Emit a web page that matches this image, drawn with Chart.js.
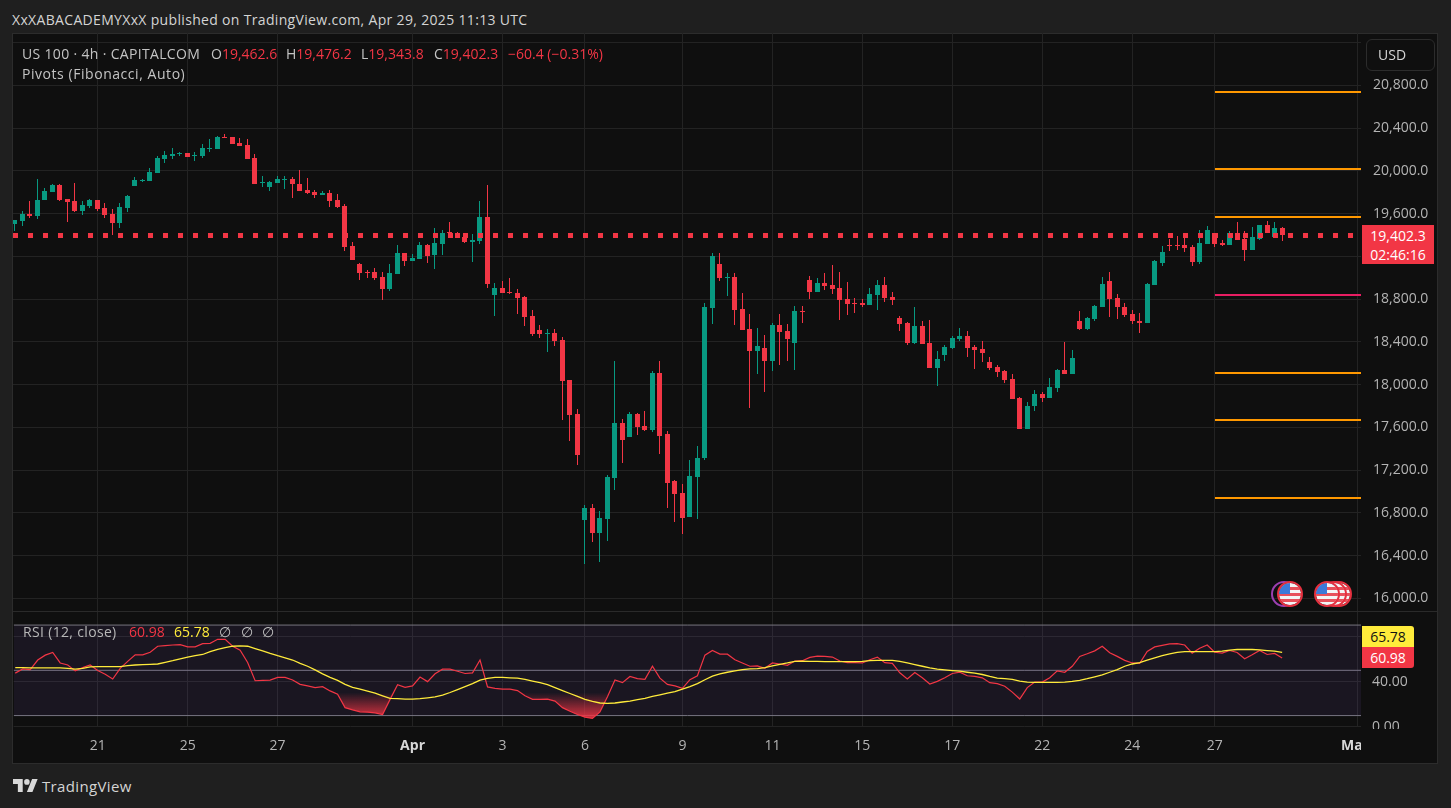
<!DOCTYPE html>
<html>
<head>
<meta charset="utf-8">
<script src="https://cdn.jsdelivr.net/npm/chart.js@4"></script>
<style>
  * { box-sizing: border-box; }
  html, body { margin: 0; width: 1451px; height: 808px; overflow: hidden; background: #1f1f1f; font-family: "Open Sans", sans-serif; color: #c4c4c4; }
  .abs { position: absolute; white-space: pre; }
  .wide { letter-spacing: 0.33px; }
  #frame { left: 12px; top: 33px; width: 1426px; height: 731px; background: #0f0f0f; border: 1px solid #2c2c2c; }
  #mainWrap { position: absolute; left: 13px; top: 33px; width: 1425px; height: 578px; }
  #rsiWrap { position: absolute; left: 13px; top: 611px; width: 1425px; height: 153px; }
  #sep { left: 13px; top: 611px; width: 1424px; height: 1px; background: #2a2a2a; }
  #mask { left: 1361px; top: 729px; width: 76px; height: 34px; background: #0f0f0f; }
  .red { color: #f23645; }
  .yel { color: #ffeb3b; }
  .tag { font-size: 14px; line-height: 21px; text-align: center; }
</style>
</head>
<body>
<div class="abs" id="frame"></div>
<div id="mainWrap"><canvas id="mainChart"></canvas></div>
<div id="rsiWrap"><canvas id="rsiChart"></canvas></div>
<div class="abs" id="sep"></div>
<div class="abs" id="mask"></div>

<div class="abs wide" style="left:12px;top:10px;font-size:14px;color:#d4d4d4">XxXABACADEMYXxX published on TradingView.com, Apr 29, 2025 11:13 UTC</div>
<div class="abs wide" style="left:22px;top:44px;font-size:14px">US 100 · 4h · CAPITALCOM</div>
<div class="abs" style="left:211px;top:44px;font-size:14px">O<span class="red">19,462.6</span></div>
<div class="abs" style="left:286px;top:44px;font-size:14px">H<span class="red">19,476.2</span></div>
<div class="abs" style="left:361px;top:44px;font-size:14px">L<span class="red">19,343.8</span></div>
<div class="abs" style="left:434px;top:44px;font-size:14px">C<span class="red">19,402.3</span></div>
<div class="abs red" style="left:508px;top:44px;font-size:14px">−60.4 (−0.31%)</div>
<div class="abs" style="left:22px;top:64px;font-size:14px;letter-spacing:0.55px">Pivots (Fibonacci, Auto)</div>

<div class="abs" style="left:1366px;top:39px;width:69px;height:32px;border:1px solid #2c2c2c;border-radius:6px;padding:5px 0 0 11px;font-size:14px;color:#d4d4d4">USD</div>

<div class="abs tag" style="left:1362px;top:225px;width:72px;height:39px;background:#f23645;color:#fff;line-height:19px;padding-top:1px">19,402.3<br>02:46:16</div>

<div class="abs wide" style="left:23px;top:622px;font-size:14px;color:#b8b8b8">RSI (12, close)</div>
<div class="abs red" style="left:129px;top:622px;font-size:14px">60.98</div>
<div class="abs yel" style="left:174px;top:622px;font-size:14px">65.78</div>
<div class="abs" style="left:219px;top:622px;font-size:14px;word-spacing:6px">∅ ∅ ∅</div>
<div class="abs tag" style="left:1362px;top:626px;width:52px;height:21px;background:#ffeb3b;color:#111;border-radius:0 3px 0 0">65.78</div>
<div class="abs tag" style="left:1362px;top:647px;width:52px;height:21px;background:#f23645;color:#fff;border-radius:0 0 3px 0">60.98</div>

<svg class="abs" style="left:1268px;top:578px" width="84" height="32" viewBox="0 0 84 32">
  <defs>
    <clipPath id="flagClip"><circle cx="0" cy="0" r="11"/></clipPath>
    <g id="flag">
      <g clip-path="url(#flagClip)">
        <rect x="-11" y="-11" width="22" height="22" fill="#f4f4f4"/>
        <rect x="-11" y="-7" width="22" height="3" fill="#e8505b"/>
        <rect x="-11" y="-1" width="22" height="3" fill="#e8505b"/>
        <rect x="-11" y="5" width="22" height="3" fill="#e8505b"/>
        <rect x="-11" y="-11" width="11" height="11" fill="#3c79d8"/>
      </g>
      <circle r="12" fill="none" stroke="#e5303f" stroke-width="2"/>
    </g>
  </defs>
  <circle cx="16" cy="16" r="12" fill="none" stroke="#9c3fb0" stroke-width="2"/>
  <use href="#flag" x="22" y="16"/>
  <use href="#flag" x="71" y="16"/>
  <use href="#flag" x="66" y="16"/>
  <use href="#flag" x="59" y="16"/>
</svg>

<svg class="abs" style="left:13px;top:779px" width="25" height="13" viewBox="0 4 36 18" preserveAspectRatio="none">
  <path fill="#d8d8d8" d="M14 22H7V11H0V4h14v18zM28 22h-8l7.5-18h8L28 22z"/><circle fill="#d8d8d8" cx="20" cy="8" r="4"/>
</svg>
<div class="abs" style="left:42px;top:776px;font-size:15px;color:#d4d4d4;letter-spacing:0.35px">TradingView</div>

<script>
const opens = [
  19502,19531,19596,19577,19727,19802,19867,19736,19718,19624,19671,19727,19652,19596,19512,19652,19858,19905,19905,19980,
  20111,20139,20154,20167,20142,20139,20204,20204,20317,20317,20260,20242,20120,19889,19849,19886,19917,19924,19877,19821,
  19802,19774,19793,19727,19671,19296,19128,19053,19053,19006,18894,19034,19231,19156,19175,19306,19212,19315,19427,19415,
  19380,19334,19343,19568,18838,18903,18866,18856,18819,18641,18510,18473,18482,18417,18042,17724,16733,16845,16611,16742,
  17125,17640,17509,17724,17612,17575,18108,17537,17097,16985,16761,17135,17313,18716,19128,18997,19006,18707,18520,18314,
  18342,18220,18557,18501,18389,18688,18978,18866,18950,18931,18903,18800,18763,18763,18744,18838,18931,18819,18623,18575,
  18389,18548,18389,18155,18276,18342,18426,18454,18351,18332,18210,18164,18127,18051,17874,17584,17799,17911,17874,17968,
  18136,18099,18595,18520,18614,18726,18969,18810,18726,18660,18595,18576,18932,19138,19306,19306,19306,19287,19147,19315,
  19418,19325,19306,19418,19362,19259,19362,19493,19381,19462.6
];
const highs = [
  19540,19624,19718,19924,19839,19877,19877,19736,19886,19718,19736,19727,19699,19643,19699,19774,19942,19924,20026,20139,
  20186,20214,20176,20167,20176,20251,20298,20326,20345,20317,20307,20298,20157,19952,19905,19952,19952,19942,20008,19933,
  19821,19811,19821,19783,19690,19334,19137,19072,19091,19053,19128,19306,19231,19222,19334,19315,19465,19446,19521,19427,
  19415,19408,19718,19867,18950,18969,18997,18894,18828,18697,18557,18519,18519,18444,18042,17771,16873,16882,16817,17154,
  18220,17677,17743,17733,17752,18127,18220,17565,17107,17069,17294,17425,18760,19231,19231,19044,19044,18857,18660,18529,
  18463,18575,18660,18567,18735,18735,19015,18997,19044,19118,19053,18960,18810,18800,18903,18978,19006,18866,18641,18585,
  18726,18595,18604,18314,18370,18454,18529,18501,18370,18407,18257,18183,18136,18098,17883,17836,17949,17930,18061,18146,
  18398,18323,18688,18632,18745,19007,19053,18847,18763,18698,18670,18950,19166,19297,19362,19390,19409,19306,19446,19484,
  19418,19353,19437,19521,19437,19474,19493,19531,19521,19476.2
];
const lows = [
  19437,19484,19559,19549,19727,19802,19718,19521,19615,19587,19652,19624,19559,19400,19465,19615,19858,19895,19905,19980,
  20073,20111,20139,20129,20092,20120,20176,20204,20310,20251,20232,20111,19877,19849,19811,19886,19830,19746,19811,19783,
  19746,19774,19662,19652,19250,19165,18978,18997,18978,18791,18875,19034,19109,19156,19175,19137,19081,19212,19371,19371,
  19324,19147,19315,18903,18641,18856,18847,18660,18548,18454,18435,18304,18360,17668,17472,17247,16321,16527,16340,16536,
  17013,17266,17509,17528,17565,17556,17350,16845,16714,16601,16761,16742,17294,18567,18969,18829,18557,18510,17780,18098,
  17930,18127,18183,18220,18136,18575,18800,18866,18884,18847,18604,18651,18670,18726,18744,18698,18772,18744,18501,18370,
  18379,18379,18155,17986,18220,18332,18407,18257,18145,18210,18136,18070,18014,17864,17584,17584,17752,17836,17874,17930,
  18099,18099,18511,18511,18595,18726,18632,18614,18632,18567,18483,18576,18932,19109,19250,19259,19240,19109,19128,19315,
  19287,19297,19306,19353,19156,19259,19353,19418,19381,19343.8
];
const closes = [
  19540,19596,19577,19727,19811,19867,19727,19708,19624,19680,19727,19643,19587,19512,19662,19764,19914,19914,19989,20120,
  20148,20157,20164,20129,20148,20214,20214,20317,20310,20251,20232,20111,19877,19895,19895,19924,19924,19877,19811,19793,
  19774,19793,19718,19662,19287,19165,19044,19044,18997,18894,19044,19231,19156,19184,19306,19203,19324,19418,19418,19371,
  19334,19352,19568,18941,18903,18856,18856,18810,18632,18473,18473,18482,18407,18033,17715,17341,16845,16611,16751,17135,
  17640,17481,17724,17603,17575,18108,17519,17079,16976,16751,17144,17313,18726,19203,18997,19006,18698,18510,18314,18361,
  18220,18557,18492,18426,18688,18679,18866,18950,18922,18894,18791,18754,18757,18744,18847,18931,18810,18791,18567,18389,
  18548,18379,18155,18239,18351,18435,18454,18342,18323,18295,18155,18117,18042,17864,17584,17799,17911,17874,17977,18136,
  18099,18249,18520,18623,18735,18941,18801,18726,18651,18595,18576,18941,19156,19240,19297,19297,19278,19147,19325,19446,
  19315,19306,19418,19353,19259,19381,19493,19418,19465,19402.3
];
const lastPriceLine = 19394.7;
const pivotLevels = [20737.4, 20016.9, 19567.8, 18838, 18108.1, 17668.3, 16938.5];
const pivotColors = ["#ff9800", "#ff9800", "#ff9800", "#e91e63", "#ff9800", "#ff9800", "#ff9800"];

const rsiValues = [
  47.5,51.2,50.7,59.1,63.4,65.8,56.5,54.7,49.5,52.4,54.7,49.8,46.6,42.3,51.8,57.9,63.7,63.7,66.0,71.3,
  71.8,72.4,72.7,70.7,70.7,73.6,73.9,77.4,77.4,71.3,67.8,57.0,40.8,41.1,41.4,43.7,43.7,41.4,37.6,36.2,
  34.7,35.6,31.8,28.9,17.0,15.0,13.3,13.0,12.4,10.9,24.3,37.3,35.0,36.2,44.0,40.0,46.9,51.0,51.0,49.2,
  47.2,47.8,59.1,35.3,34.1,33.3,33.3,32.1,27.5,24.3,24.3,24.6,22.8,17.0,13.8,10.9,8.6,7.5,13.3,26.6,
  41.4,39.1,44.6,42.6,42.0,53.6,43.1,37.6,36.2,34.1,41.7,45.2,63.4,67.5,64.3,64.3,59.4,56.5,53.6,53.9,
  51.8,56.5,55.6,54.4,58.2,58.5,61.4,62.6,62.3,61.7,58.2,56.8,56.8,56.5,59.4,61.7,56.8,56.2,47.8,42.3,
  48.1,43.4,37.9,40.2,43.4,47.2,48.3,45.2,44.6,43.4,39.1,38.2,35.9,30.7,24.6,34.7,39.6,39.6,43.4,49.5,
  48.3,53.6,62.3,64.6,67.2,71.3,65.5,62.3,58.8,56.5,56.2,66.6,70.7,72.1,73.3,73.6,72.4,65.2,69.5,72.4,
  66.0,65.2,67.5,65.8,60.2,63.7,67.5,64.0,64.9,60.98
];
const rsiMaValues = [
  52.4,52.4,52.1,52.1,52.1,52.1,52.1,51.8,51.0,51.8,53.0,53.3,53.3,53.3,53.3,54.2,54.7,55.0,55.3,55.6,
  57.0,58.5,60.2,61.7,62.9,64.0,66.6,68.6,70.1,71.3,71.6,71.3,69.2,67.2,64.9,62.9,61.1,59.1,56.2,53.6,
  50.4,46.9,43.7,41.1,37.6,35.0,33.3,31.5,29.8,27.5,25.2,24.9,24.6,24.6,24.9,25.7,26.6,28.1,30.4,33.0,
  35.6,38.2,41.4,42.8,43.7,43.7,43.4,43.1,42.0,40.5,39.1,37.3,34.7,32.1,29.5,26.9,24.3,22.5,21.1,20.8,
  21.1,22.0,22.8,24.0,25.2,26.9,28.3,29.8,31.2,33.3,35.6,38.2,41.7,44.9,46.9,48.3,49.5,50.7,51.2,51.5,
  52.4,53.9,55.3,56.5,57.9,58.2,57.9,57.9,57.6,57.6,57.6,57.6,57.6,57.9,58.5,58.8,58.8,58.8,57.9,56.5,
  55.0,53.6,52.1,51.0,50.4,49.8,49.2,48.3,47.5,46.3,44.6,43.1,42.6,42.0,40.5,39.6,39.4,39.4,39.4,39.4,
  39.6,40.2,41.1,42.6,44.3,46.0,48.3,50.7,53.6,55.6,56.8,59.1,61.1,62.9,64.6,65.8,66.6,66.6,66.6,66.6,
  66.6,66.9,67.8,68.4,68.4,68.4,68.1,67.5,67.0,65.78
];
const rsiBands = [90, 50, 10];
const oversoldLevel = 30;

const xTickIndex = [11, 23, 35, 53, 65, 76, 89, 101, 113, 125, 137, 149, 160, 178.3, 179];
const xTickLabels = ["21", "25", "27", "Apr", "3", "6", "9", "11", "15", "17", "22", "24", "27", "Ma", ""];

const GREEN = "#089981";
const RED = "#f23645";
const GRID = "#232323";
const AXIS_TEXT = "#b4b4b4";
const FONT = '"Open Sans", sans-serif';
const X_MIN = -0.2133;
const X_MAX = 179.52;

Chart.defaults.animation = false;
Chart.defaults.responsive = false;
Chart.defaults.font.family = FONT;

// keeps the candles on whole pixels, otherwise they come out blurry
const crispBars = {
  id: "crispBars",
  beforeDatasetsDraw(chart) {
    chart.getSortedVisibleDatasetMetas().forEach((meta) => {
      if (meta.type !== "bar") return;
      meta.data.forEach((el) => {
        const top = Math.round(Math.min(el.y, el.base));
        const bottom = Math.max(Math.round(Math.max(el.y, el.base)), top + 1);
        el.x = Math.floor(el.x) + 0.5;
        el.y = top;
        el.base = bottom;
      });
    });
  },
};

// chart.js pads the area by half a label, the panes here run edge to edge
const noPadding = (s) => {
  s.paddingTop = 0;
  s.paddingBottom = 0;
  s.paddingLeft = 0;
  s.paddingRight = 0;
};

const candleColors = closes.map((c, i) => (c >= opens[i] ? GREEN : RED));
const xAxisBase = {
  type: "linear",
  offset: false,
  min: X_MIN,
  max: X_MAX,
  border: { display: false },
  afterBuildTicks: (scale) => {
    scale.ticks = xTickIndex.map((value) => ({ value }));
  },
  grid: {
    drawTicks: false,
    offset: false,
    color: (ctx) => (ctx.tick && ctx.tick.value === 178.3 ? "transparent" : GRID),
  },
};
const flatLine = (level, color, width, from) => ({
  type: "line",
  data: [{ x: from, y: level }, { x: X_MAX, y: level }],
  borderColor: color,
  borderWidth: width,
  pointRadius: 0,
});

const setSize = (id, w, h) => {
  const c = document.getElementById(id);
  c.width = w;
  c.height = h;
  c.style.width = w + "px";
  c.style.height = h + "px";
  return c;
};

new Chart(setSize("mainChart", 1425, 578), {
  type: "bar",
  data: {
    datasets: [
      {
        data: closes.map((c, i) => ({ x: i, y: [lows[i], highs[i]] })),
        backgroundColor: candleColors,
        barThickness: 1,
        grouped: false,
        inflateAmount: 0,
        borderWidth: 0,
        order: 3,
      },
      {
        data: closes.map((c, i) => ({ x: i, y: [Math.min(opens[i], c), Math.max(opens[i], c)] })),
        backgroundColor: candleColors,
        barThickness: 5,
        grouped: false,
        inflateAmount: 0,
        borderWidth: 0,
        order: 2,
      },
      ...pivotLevels.map((p, i) => ({ ...flatLine(p, pivotColors[i], 2, 160.05), order: 4 })),
      { ...flatLine(lastPriceLine, RED, 5, X_MIN), borderDash: [5, 10], order: 1 },
    ],
  },
  options: {
    layout: { padding: 0 },
    plugins: { legend: { display: false }, tooltip: { enabled: false } },
    scales: {
      x: { ...xAxisBase, ticks: { display: false }, afterFit: (s) => { s.height = 0; noPadding(s); } },
      y: {
        position: "right",
        min: 15881.1,
        max: 21289.4,
        border: { display: false },
        grid: { color: GRID, drawTicks: false },
        afterFit: (s) => { s.width = 77; noPadding(s); },
        ticks: {
          stepSize: 400,
          includeBounds: false,
          autoSkip: false,
          padding: 12,
          color: AXIS_TEXT,
          font: { size: 14 },
          callback: (v) => (v > 20800 ? "" : v.toLocaleString("en-US", { minimumFractionDigits: 1 })),
        },
      },
    },
  },
  plugins: [crispBars],
});

const rsiChart = new Chart(setSize("rsiChart", 1425, 153), {
  type: "line",
  data: {
    datasets: [
      ...rsiBands.map((b, i) => ({
        ...flatLine(b, "#77767f", 1, X_MIN),
        fill: i === 0 ? { target: { value: rsiBands[2] }, above: "rgba(126,87,194,0.1)", below: "transparent" } : false,
        order: 5,
      })),
      {
        data: rsiValues.map((v, i) => ({ x: i, y: v })),
        borderColor: RED,
        borderWidth: 1.2,
        pointRadius: 0,
        fill: { target: { value: oversoldLevel }, above: "transparent", below: "transparent" },
        order: 2,
      },
      {
        data: rsiMaValues.map((v, i) => ({ x: i, y: v })),
        borderColor: "#ffeb3b",
        borderWidth: 1.3,
        pointRadius: 0,
        order: 1,
      },
    ],
  },
  options: {
    layout: { padding: 0 },
    plugins: { legend: { display: false }, tooltip: { enabled: false } },
    scales: {
      x: {
        ...xAxisBase,
        afterFit: (s) => { s.height = 37; noPadding(s); },
        ticks: {
          autoSkip: false,
          maxRotation: 0,
          padding: 11,
          color: (ctx) => (ctx.tick && /[A-Z]/.test(ctx.tick.label) ? "#d8d8d8" : AXIS_TEXT),
          font: (ctx) => ({ size: 14, weight: ctx.tick && /[A-Z]/.test(ctx.tick.label) ? "bold" : "normal" }),
          callback: (v) => xTickLabels[xTickIndex.indexOf(v)],
        },
      },
      y: {
        position: "right",
        min: -0.11,
        max: 101.87,
        border: { display: false },
        grid: { color: GRID, drawTicks: false },
        afterFit: (s) => { s.width = 77; noPadding(s); },
        ticks: {
          stepSize: 40,
          includeBounds: false,
          autoSkip: false,
          padding: 11,
          color: AXIS_TEXT,
          font: { size: 14 },
          callback: (v) => (v > 40 ? "" : v.toFixed(2)),
        },
      },
    },
  },
});

// oversold shading fades in going down from the 30 level
const yScale = rsiChart.scales.y;
const fade = rsiChart.ctx.createLinearGradient(0, yScale.getPixelForValue(oversoldLevel), 0, yScale.getPixelForValue(rsiBands[2]));
fade.addColorStop(0, "rgba(242,54,69,0)");
fade.addColorStop(1, "rgba(242,54,69,0.8)");
rsiChart.data.datasets[3].fill.below = fade;
rsiChart.update();
</script>
</body>
</html>
